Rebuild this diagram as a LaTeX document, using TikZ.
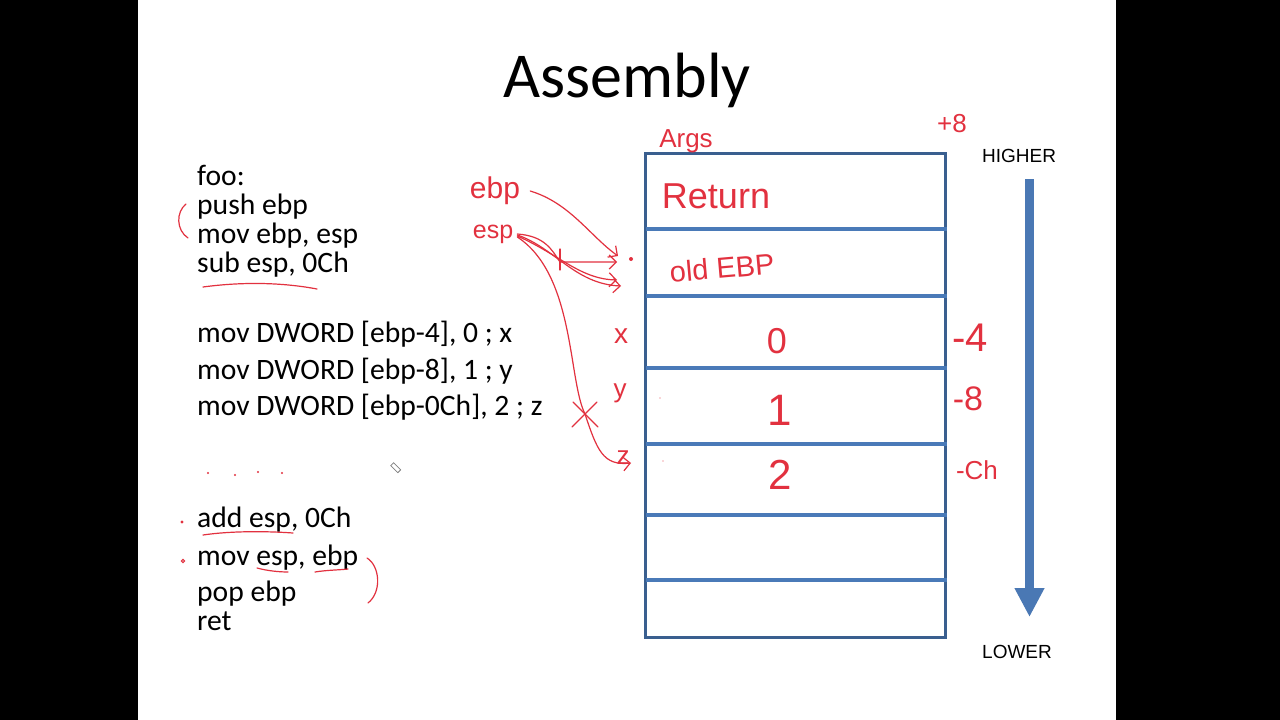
\documentclass[tikz,border=0pt]{standalone}
\usepackage{fontspec}
\setmainfont{Carlito}
\newfontfamily\arialf{Liberation Sans}
\newfontfamily\handf{Liberation Sans}
\usetikzlibrary{arrows.meta}
\definecolor{redink}{HTML}{E2313F}
\definecolor{boxblue}{HTML}{3A5F8F}
\definecolor{lineblue}{HTML}{4A7AB8}
\definecolor{arrowblue}{HTML}{4A78B4}
\begin{document}
\begin{tikzpicture}[x=1pt,y=-1pt,
  code/.style={anchor=base west, inner sep=0pt, font=\fontsize{29.6}{29.6}\selectfont},
  ink/.style={draw=redink, line width=1.2pt, line cap=round, line join=round},
  inkarrow/.style={ink, -{Straight Barb[length=7pt,width=14pt]}},
  hand/.style={text=redink, inner sep=0pt, font=\handf\fontsize{#1}{#1}\selectfont},
  hand/.default=28,
  caps/.style={anchor=base west, inner sep=0pt, font=\arialf\fontsize{19}{19}\selectfont}]
\useasboundingbox (0,0) rectangle (1280,720);
\fill[white] (0,0) rectangle (1280,720);
\fill[black] (0,0) rectangle (138,720);
\fill[black] (1116,0) rectangle (1280,720);

% title
\node[anchor=base, inner sep=0pt, font=\fontsize{64}{64}\selectfont] (title) at (627,97) {Assembly};

% code
\node[code] (c1) at (197,185) {foo:};
\node[code] (c2) at (197,214) {push ebp};
\node[code] (c3) at (197,243) {mov ebp, esp};
\node[code] (c4) at (197,272) {sub esp, 0Ch};
\node[code] (c5) at (197,342) {mov DWORD [ebp-4], 0 ; x};
\node[code] (c6) at (197,379) {mov DWORD [ebp-8], 1 ; y};
\node[code] (c7) at (197,415) {mov DWORD [ebp-0Ch], 2 ; z};
\node[code] (c8) at (197,527) {add esp, 0Ch};
\node[code] (c9) at (197,565) {mov esp, ebp};
\node[code] (c10) at (197,601) {pop ebp};
\node[code] (c11) at (197,630) {ret};

% stack
\draw[boxblue, line width=3pt] (645,153) rectangle (945,637);
\foreach \yy in {229,296,368,444,515,580}
  \draw[lineblue, line width=4pt] (646,\yy) -- (947,\yy);

% direction arrow
\coordinate (arrtop) at (1029.5,179);
\coordinate (arrtip) at (1029.5,617);
\draw[arrowblue, line width=9pt, -{Triangle[length=29pt,width=28pt]}] (arrtop) -- (arrtip);
\node[caps] (higher) at (982,162) {HIGHER};
\node[caps] (lower) at (982,658) {LOWER};

% hand-written labels
\node[hand=26] (args) at (686,141) {Args};
\node[hand=36] (ret) at (716,196) {Return};
\node[hand=29, rotate=5] (oldebp) at (722,268) {old EBP};
\node[hand=36] (v0) at (777,341) {0};
\node[hand=44] (v1) at (780,410) {1};
\node[hand=42] (v2) at (780,475) {2};
\node[hand=28] (lx) at (621,336) {x};
\node[hand=26] (ly) at (620,393) {y};
\node[hand=26] (lz) at (623,458) {z};
\node[hand=30] (ebpl) at (495,191) {ebp};
\node[hand=25] (espl) at (493,234) {esp};
\node[hand=26] (p8) at (952,124) {+8};
\node[hand=40] (m4) at (970,338) {-4};
\node[hand=34] (m8) at (968,399) {-8};
\node[hand=26] (mch) at (977,470) {-Ch};

% small marks
\fill[redink] (631,259) circle (2pt);
\fill[redink!40] (660,398) circle (0.8pt);
\fill[redink!40] (663,461) circle (0.8pt);
\fill[redink] (182,522) circle (1.6pt);
\draw[redink, line width=1pt] (183,561) circle (1.6pt);
\foreach \xx/\yy in {208/473,235/475,258/472,282/473}
  \fill[redink] (\xx,\yy) circle (1.2pt);
\draw[gray, line width=0.8pt, rotate around={-45:(395,467)}] (391,465) rectangle (401,469);

% bracket and underlines
\draw[ink] (186,204) .. controls (176,212) and (176,230) .. (188,238);
\draw[ink] (203,287) .. controls (240,282) and (280,282) .. (317,289);
\draw[ink] (203,535) .. controls (230,531) and (265,531) .. (293,533);
\draw[ink] (257,568) .. controls (268,571) and (280,572) .. (288,572);
\draw[ink] (315,572) .. controls (327,570) and (340,570) .. (348,569);
\draw[ink] (367,558) .. controls (380,566) and (382,592) .. (368,603);

% pointer arrows
\coordinate (ebptip) at (618,256);
\coordinate (esptipA) at (617,262);
\coordinate (esptipB) at (621,286);
\coordinate (esptipC) at (617,280);
\coordinate (zt) at (631,463);
\coordinate (cross) at (585,414);
\draw[inkarrow] ([xshift=10pt]ebpl.east) .. controls (570,203) and (590,236) .. (ebptip);
\draw[inkarrow] ([xshift=4pt]espl.east) .. controls (545,236) and (552,250) .. (560,262) -- (esptipA);
\draw[ink] (560,249) -- (560,270);
\draw[inkarrow] ([xshift=4pt,yshift=-1pt]espl.east) .. controls (555,248) and (575,284) .. (esptipB);
\draw[inkarrow] ([xshift=4pt,yshift=-2pt]espl.east) .. controls (560,255) and (580,279) .. (esptipC);
\draw[inkarrow] ([xshift=4pt,yshift=-3pt]espl.east) .. controls (575,275) and (568,380) .. (cross) .. controls (597,450) and (603,466) .. (zt);
\draw[ink] ([shift={(-13,13)}]cross) -- ([shift={(12,-12)}]cross);
\draw[ink] ([shift={(-12,-12)}]cross) -- ([shift={(13,13)}]cross);
\end{tikzpicture}
\end{document}
